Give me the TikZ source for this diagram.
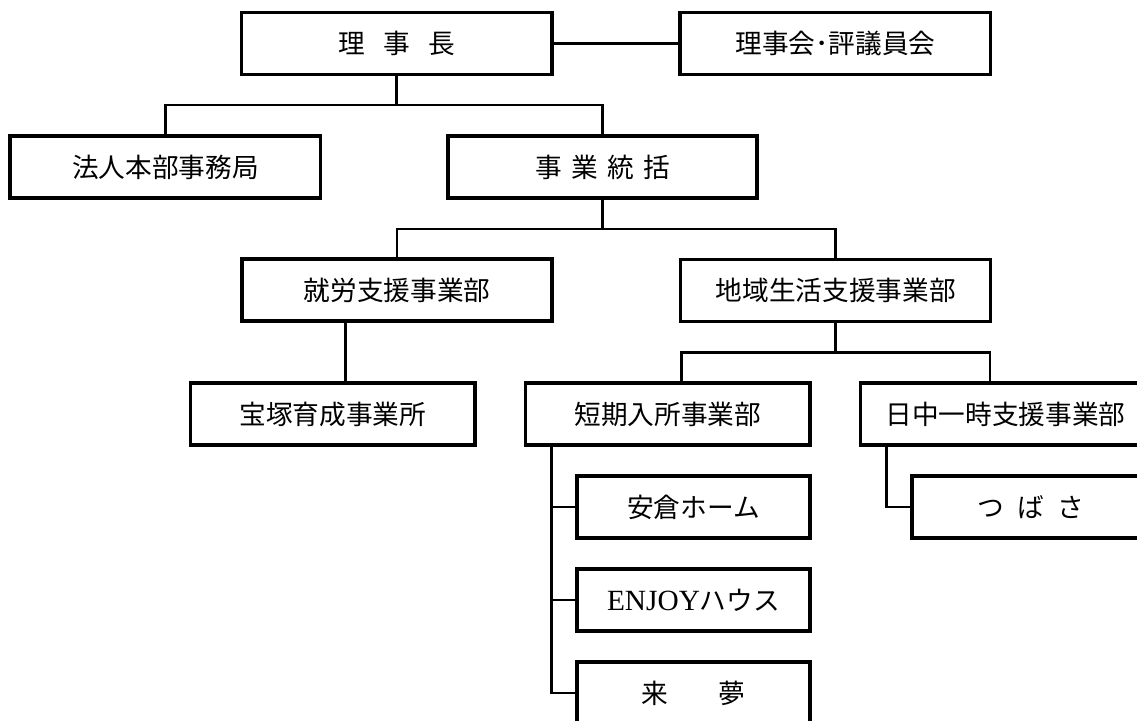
\documentclass[tikz,border=0pt]{standalone}
\usepackage{fontspec}
\setmainfont{Noto Sans CJK JP}
\newfontfamily\enfont{Liberation Serif}
\begin{document}
\begin{tikzpicture}[x=0.75pt,y=-0.75pt,
  box/.style={draw=black, line width=2.4pt, fill=white, minimum height=46.5pt,
    inner sep=0pt, line join=miter, font=\fontsize{20pt}{24pt}\selectfont},
  conn/.style={draw=black, line width=2.2pt, line join=miter}]
\useasboundingbox (0,0) rectangle (1137,720);
\clip (0,0) rectangle (1137,720);
\fill[white] (0,0) rectangle (1137,720);

\node[box, minimum width=232.7pt] (rijicho) at (396.85,43.35) {理\hspace{0.7em}事\hspace{0.7em}長};
\node[box, minimum width=233pt] (rijikai) at (835.35,43.35) {理事会･評議員会};
\node[box, minimum width=233pt] (houjin) at (165.35,167) {法人本部事務局};
\node[box, minimum width=231.75pt] (jigyo) at (602.5,167) {事\hspace{.35em}業\hspace{.35em}統\hspace{.35em}括};
\node[box, minimum width=232.5pt] (shuro) at (397,290) {就労支援事業部};
\node[box, minimum width=232.5pt] (chiiki) at (835.7,290.5) {地域生活支援事業部};
\node[box, minimum width=213.2pt] (takara) at (332.85,414) {宝塚育成事業所};
\node[box, minimum width=213.2pt] (tanki) at (667.85,414) {短期入所事業部};
\node[box, minimum width=217pt] (nitchu) at (1005.35,414) {日中一時支援事業部};
\node[box, minimum width=174.75pt] (akura) at (693.5,507) {安倉ホーム};
\node[box, minimum width=174.75pt] (enjoy) at (693.5,600) {{\enfont\fontsize{22pt}{24pt}\selectfont ENJOY}ハウス};
\node[box, minimum width=174.75pt] (raimu) at (693.5,693) {来\hspace{1.9em}夢};
\node[box, minimum width=178.5pt] (tsubasa) at (1031,507) {つ\hspace{.5em}ば\hspace{.5em}さ};

\coordinate (y1) at (0,105);
\coordinate (y2) at (0,229);
\coordinate (y3) at (0,352.7);
\coordinate (x1) at (345.5,0);
\coordinate (x2) at (681.7,0);
\coordinate (x3) at (990,0);
\coordinate (x4) at (551.7,0);
\coordinate (x5) at (886.7,0);

\draw[conn] (rijicho.east) -- (rijikai.west);
\draw[conn] (rijicho.south) -- (rijicho.south |- y1);
\draw[conn] (houjin.north) |- (y1 -| jigyo.north) -- (jigyo.north);

\draw[conn] (jigyo.south) -- (jigyo.south |- y2);
\draw[conn] (shuro.north) |- (y2 -| chiiki.north) -- (chiiki.north);

\draw[conn] (x1 |- shuro.south) -- (x1 |- takara.north);

\draw[conn] (chiiki.south) -- (chiiki.south |- y3);
\draw[conn] (x2 |- tanki.north) -- (x2 |- y3) -- (x3 |- y3) -- (x3 |- nitchu.north);

\draw[conn] (x4 |- tanki.south) -- (x4 |- raimu.west) -- (raimu.west);
\draw[conn] (x4 |- akura.west) -- (akura.west);
\draw[conn] (x4 |- enjoy.west) -- (enjoy.west);

\draw[conn] (x5 |- nitchu.south) -- (x5 |- tsubasa.west) -- (tsubasa.west);
\end{tikzpicture}
\end{document}
